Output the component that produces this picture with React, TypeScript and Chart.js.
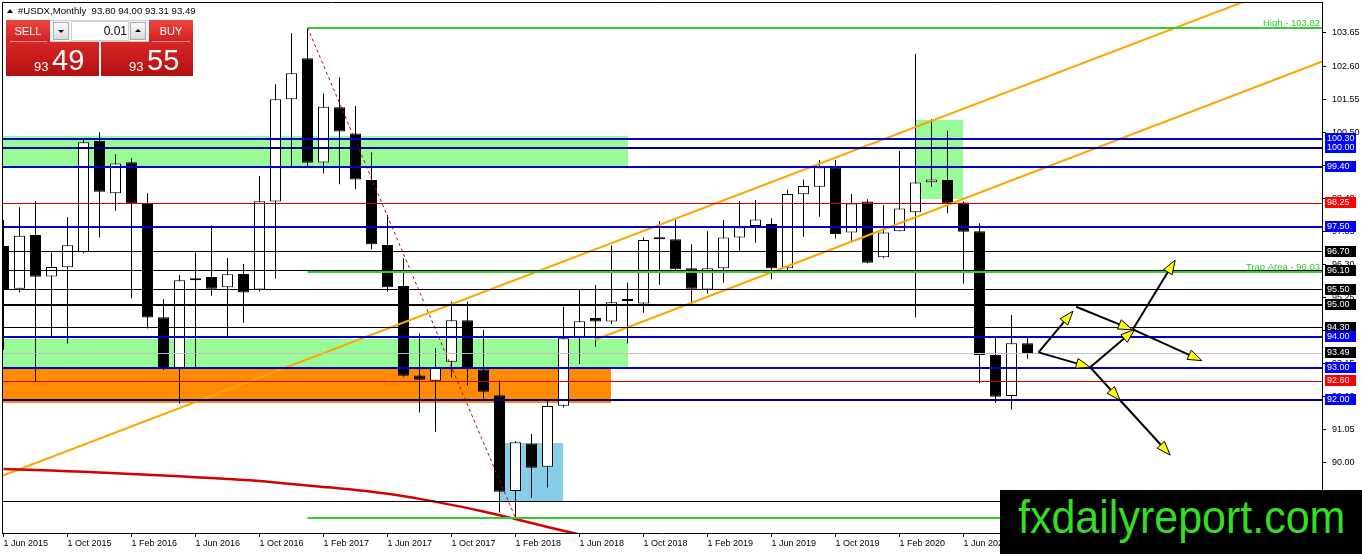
import React, { useEffect, useRef } from 'react';
import { Chart, registerables } from 'chart.js';

Chart.register(...registerables);

// Monthly candles, index 0 = Jun 2015 ... 64 = Oct 2020
const opens = [96.89, 95.53, 97.24, 95.92, 96.21, 96.69, 100.22, 98.56, 99.55, 98.25, 94.63, 93.0, 95.8, 95.9, 95.58, 96.0, 95.51, 98.3, 101.55, 102.85, 99.54, 101.29, 100.46, 98.98, 96.92, 95.62, 92.78, 92.61, 93.21, 94.53, 92.97, 92.15, 89.11, 90.62, 89.88, 91.82, 93.96, 94.6, 94.49, 95.14, 95.06, 97.1, 97.1, 96.18, 95.51, 96.18, 97.16, 97.52, 97.59, 96.18, 98.53, 98.77, 99.39, 97.32, 98.3, 96.53, 97.36, 97.96, 98.91, 98.98, 98.27, 97.36, 93.43, 92.13, 93.8];
const highs = [97.71, 98.12, 98.32, 96.68, 97.8, 100.25, 100.5, 99.8, 99.67, 98.56, 95.2, 95.97, 96.68, 97.55, 96.51, 96.32, 99.11, 102.02, 103.64, 103.82, 101.73, 102.24, 101.33, 99.86, 97.87, 96.5, 94.11, 93.64, 95.12, 95.12, 94.22, 92.63, 90.7, 90.92, 91.98, 94.96, 95.51, 95.65, 96.9, 95.73, 97.16, 97.68, 97.71, 96.94, 97.36, 97.71, 98.32, 98.35, 97.77, 98.67, 99.0, 99.62, 99.62, 98.54, 98.37, 98.19, 99.9, 102.98, 100.91, 100.55, 98.3, 97.61, 93.98, 94.7, 94.0];
const lows = [93.59, 95.41, 92.58, 94.03, 93.79, 96.66, 97.16, 98.01, 95.23, 94.27, 92.95, 91.89, 93.0, 95.31, 94.03, 94.45, 95.44, 95.86, 99.43, 99.43, 99.19, 98.85, 98.69, 96.78, 95.44, 92.74, 91.6, 90.99, 92.71, 92.47, 92.05, 88.43, 88.25, 88.9, 89.22, 91.76, 93.14, 93.69, 94.41, 93.8, 94.77, 95.66, 96.05, 95.07, 95.39, 95.72, 96.71, 96.99, 95.83, 96.1, 97.18, 97.82, 97.13, 97.05, 96.34, 96.5, 97.36, 94.62, 98.77, 97.93, 95.7, 92.53, 91.91, 91.7, 93.31];
const closes = [95.49, 97.21, 95.91, 96.22, 96.91, 100.18, 98.61, 99.51, 98.23, 94.62, 93.0, 95.8, 95.86, 95.53, 95.99, 95.41, 98.31, 101.55, 102.37, 99.53, 101.31, 100.52, 99.0, 96.94, 95.58, 92.77, 92.64, 93.03, 94.53, 93.0, 92.26, 89.09, 90.66, 89.85, 91.81, 93.96, 94.5, 94.49, 95.1, 95.16, 97.08, 97.16, 96.15, 95.53, 96.18, 97.16, 97.48, 97.73, 96.18, 98.54, 98.79, 99.39, 97.27, 98.24, 96.36, 97.32, 98.08, 98.9, 99.0, 98.24, 97.34, 93.43, 92.1, 93.8, 93.49];

const xTickLabels = ['1 Jun 2015', '1 Oct 2015', '1 Feb 2016', '1 Jun 2016', '1 Oct 2016', '1 Feb 2017', '1 Jun 2017', '1 Oct 2017', '1 Feb 2018', '1 Jun 2018', '1 Oct 2018', '1 Feb 2019', '1 Jun 2019', '1 Oct 2019', '1 Feb 2020', '1 Jun 2020', '1 Oct 2020', '1 Feb 2021', '1 Jun 2021', '1 Oct 2021', '1 Feb 2022'];
const yTickValues = [88.95, 90.0, 91.05, 92.1, 93.15, 94.2, 95.25, 96.3, 97.35, 98.4, 99.45, 100.5, 101.55, 102.6, 103.65];

// moving average (red curve)
const maIdx = [0, 2, 4, 6, 8, 10, 12, 14, 16, 18, 20, 22, 24, 26, 28, 30, 32, 34, 36, 38];
const maVals = [89.81, 89.78, 89.74, 89.7, 89.65, 89.6, 89.55, 89.49, 89.43, 89.33, 89.24, 89.14, 89.02, 88.86, 88.67, 88.46, 88.22, 87.97, 87.73, 87.49];

// horizontal price levels with axis labels
const levelPrices = [100.3, 100.0, 99.4, 98.25, 97.5, 96.7, 96.1, 95.5, 95.0, 94.3, 94.0, 93.49, 93.0, 92.6, 92.0, 88.79];
const levelKinds = ['blue', 'navy', 'blue', 'red', 'blue', 'black', 'black', 'black', 'bold', 'black', 'blue', 'gray', 'blue', 'red', 'navy', 'black'];

// green trend levels (start month index)
const greenLevels = [103.82, 96.06, 88.25];
const greenFrom = [19, 19, 19];

// zones
const zoneKinds = ['green', 'green', 'orange', 'sky', 'green'];
const zoneFrom = [-1, -1, -1, 31.03, 57.03];
const zoneTo = [39.0, 39.0, 37.95, 34.95, 59.99];
const zoneTop = [100.38, 93.95, 92.97, 90.62, 100.89];
const zoneBottom = [99.4, 93.0, 91.89, 88.79, 98.38];

// trendlines
const channelUpperX = [-0.2, 82.5];
const channelUpperY = [89.57, 105.61];
const channelLowerX = [36.98, 82.5];
const channelLowerY = [93.91, 102.76];
const dottedX = [19, 32];
const dottedY = [103.82, 88.25];

// projection arrows [fromIdx, fromPrice, toIdx, toPrice]
const arrowSegments = [
  [64.69, 93.51, 66.84, 94.82],
  [64.69, 93.51, 67.92, 93.04],
  [67.04, 94.96, 70.55, 94.23],
  [67.92, 93.04, 70.7, 94.24],
  [70.58, 94.24, 73.23, 96.44],
  [70.58, 94.24, 74.9, 93.25],
  [67.92, 93.04, 69.79, 91.99],
  [69.79, 91.99, 72.92, 90.25],
];

const X_MIN = -0.09375;
const X_MAX = 82.40625;
const Y_MIN = 87.777;
const Y_MAX = 104.634;

const LEVEL_STYLE: Record<string, { line: string; width: number; box: string }> = {
  blue: { line: '#0000d0', width: 2, box: '#0000ff' },
  navy: { line: '#000090', width: 2, box: '#0000ff' },
  red: { line: '#d00000', width: 1, box: '#ff0000' },
  black: { line: '#000000', width: 1, box: '#000000' },
  bold: { line: '#000000', width: 2, box: '#000000' },
  gray: { line: '#c0c0c0', width: 1, box: '#000000' },
};
const ZONE_COLOR: Record<string, string> = { green: '#98fb98', orange: '#ff8c00', sky: '#87ceeb' };
const FONT = '"Liberation Sans", Arial, sans-serif';

const overlay = {
  id: 'overlay',
  beforeDatasetsDraw(chart: any) {
    const { ctx, chartArea: a, scales } = chart;
    const xs = scales.x, ys = scales.y;
    ctx.save();
    ctx.beginPath();
    ctx.rect(a.left, a.top, a.right - a.left, a.bottom - a.top);
    ctx.clip();
    zoneKinds.forEach((k, n) => {
      const x0 = Math.round(xs.getPixelForValue(zoneFrom[n]));
      const x1 = Math.round(xs.getPixelForValue(zoneTo[n]));
      const y0 = Math.round(ys.getPixelForValue(zoneTop[n]));
      const y1 = Math.round(ys.getPixelForValue(zoneBottom[n]));
      ctx.fillStyle = ZONE_COLOR[k];
      ctx.fillRect(x0, y0, x1 - x0, y1 - y0);
    });
    ctx.restore();
  },
  afterDatasetsDraw(chart: any) {
    const { ctx, chartArea: a, scales } = chart;
    const xs = scales.x, ys = scales.y;
    ctx.save();
    ctx.beginPath();
    ctx.rect(a.left, a.top, a.right - a.left, a.bottom - a.top);
    ctx.clip();
    levelPrices.forEach((p, n) => {
      const st = LEVEL_STYLE[levelKinds[n]];
      const py = ys.getPixelForValue(p);
      const yy = st.width % 2 ? Math.floor(py) + 0.5 : Math.round(py);
      ctx.strokeStyle = st.line;
      ctx.lineWidth = st.width;
      ctx.beginPath();
      ctx.moveTo(a.left, yy);
      ctx.lineTo(a.right, yy);
      ctx.stroke();
    });
    greenLevels.forEach((p, n) => {
      const py = Math.round(ys.getPixelForValue(p));
      const x0 = xs.getPixelForValue(greenFrom[n]);
      ctx.strokeStyle = '#33cc33';
      ctx.lineWidth = 2;
      ctx.beginPath();
      ctx.moveTo(x0, py);
      ctx.lineTo(a.right, py);
      ctx.stroke();
    });
    arrowSegments.forEach(([fx, fy, tx, ty]) => {
      const x0 = xs.getPixelForValue(fx), y0 = ys.getPixelForValue(fy);
      const x1 = xs.getPixelForValue(tx), y1 = ys.getPixelForValue(ty);
      const ang = Math.atan2(y1 - y0, x1 - x0);
      const L = 14, W = 5;
      const bx = x1 - L * Math.cos(ang), by = y1 - L * Math.sin(ang);
      ctx.strokeStyle = '#000';
      ctx.lineWidth = 2;
      ctx.beginPath();
      ctx.moveTo(x0, y0);
      ctx.lineTo(bx, by);
      ctx.stroke();
      ctx.beginPath();
      ctx.moveTo(x1, y1);
      ctx.lineTo(bx + W * Math.sin(ang), by - W * Math.cos(ang));
      ctx.lineTo(bx - W * Math.sin(ang), by + W * Math.cos(ang));
      ctx.closePath();
      ctx.fillStyle = '#ffff00';
      ctx.fill();
      ctx.lineWidth = 1;
      ctx.stroke();
    });
    ctx.font = '9.5px ' + FONT;
    ctx.fillStyle = '#33cc33';
    ctx.textAlign = 'right';
    ctx.textBaseline = 'alphabetic';
    ctx.fillText('High - 103.82', a.right - 2, Math.round(ys.getPixelForValue(greenLevels[0])) - 2);
    ctx.fillText('Trap Area - 96.03', a.right - 2, Math.round(ys.getPixelForValue(greenLevels[1])) - 2);
    ctx.restore();
  },
  afterDraw(chart: any) {
    const { ctx, chartArea: a, scales } = chart;
    const ys = scales.y;
    ctx.save();
    ctx.strokeStyle = '#000';
    ctx.lineWidth = 1;
    ctx.beginPath();
    ctx.moveTo(a.left + 0.5, a.bottom);
    ctx.lineTo(a.left + 0.5, a.top + 0.5);
    ctx.lineTo(a.right, a.top + 0.5);
    ctx.stroke();
    ctx.font = '9px ' + FONT;
    ctx.textAlign = 'left';
    ctx.textBaseline = 'middle';
    levelPrices.forEach((p, n) => {
      const st = LEVEL_STYLE[levelKinds[n]];
      const py = Math.round(ys.getPixelForValue(p));
      ctx.fillStyle = st.box;
      ctx.fillRect(a.right + 3, py - 6, 31, 11);
      ctx.fillStyle = '#fff';
      ctx.fillText(p.toFixed(2), a.right + 5, py);
    });
    ctx.restore();
  },
};

const idx = opens.map((_, i) => i);

export default function App() {
  const ref = useRef<HTMLCanvasElement>(null);
  useEffect(() => {
    const chart = new Chart(ref.current as HTMLCanvasElement, {
      type: 'bar',
      data: {
        datasets: [
          {
            type: 'line',
            data: maIdx.map((v, k) => ({ x: v, y: maVals[k] })),
            borderColor: '#d40000',
            borderWidth: 2.5,
            pointRadius: 0,
            tension: 0.4,
            order: 0,
          } as any,
          {
            type: 'line',
            data: channelUpperX.map((v, k) => ({ x: v, y: channelUpperY[k] })),
            borderColor: '#ffa500',
            borderWidth: 2,
            pointRadius: 0,
            order: 0,
          },
          {
            type: 'line',
            data: channelLowerX.map((v, k) => ({ x: v, y: channelLowerY[k] })),
            borderColor: '#ffa500',
            borderWidth: 2,
            pointRadius: 0,
            order: 0,
          },
          {
            type: 'line',
            data: dottedX.map((v, k) => ({ x: v, y: dottedY[k] })),
            borderColor: '#c00000',
            borderWidth: 1,
            borderDash: [3, 3],
            pointRadius: 0,
            order: 0,
          },
          {
            type: 'bar',
            data: idx.map((i) => ({ x: i, y: [opens[i], closes[i]] })),
            backgroundColor: (c: any) => (closes[c.dataIndex] >= opens[c.dataIndex] ? '#ffffff' : '#000000'),
            borderColor: '#000',
            borderWidth: 1,
            borderSkipped: false,
            barThickness: 11,
            grouped: false,
            minBarLength: 2,
            inflateAmount: 0,
            order: 1,
          } as any,
          {
            type: 'bar',
            data: idx.map((i) => ({ x: i, y: [lows[i], highs[i]] })),
            backgroundColor: '#000',
            borderWidth: 0,
            barThickness: 1,
            grouped: false,
            inflateAmount: 0,
            order: 2,
          } as any,
        ],
      },
      options: {
        animation: false,
        responsive: false,
        maintainAspectRatio: false,
        events: [],
        layout: { padding: { left: 2, top: 2, right: 0, bottom: 0 } },
        plugins: { legend: { display: false }, tooltip: { enabled: false } },
        scales: {
          x: {
            type: 'linear',
            position: 'bottom',
            min: X_MIN,
            max: X_MAX,
            offset: false,
            bounds: 'data',
            grid: { drawOnChartArea: false, drawTicks: true, tickLength: 4, color: '#000', offset: false },
            border: { display: true, color: '#000' },
            ticks: {
              autoSkip: false,
              maxRotation: 0,
              minRotation: 0,
              align: 'start',
              padding: 1,
              color: '#000',
              font: { family: FONT, size: 9 },
              callback: (v: any) => xTickLabels[Math.round(Number(v) / 4)] ?? '',
            },
            afterBuildTicks: (s: any) => {
              s.ticks = xTickLabels.map((_, k) => ({ value: k * 4 }));
            },
            afterFit: (s: any) => {
              s.height = 21;
              s.paddingLeft = 0;
              s.paddingRight = 0;
              s.paddingTop = 0;
              s.paddingBottom = 0;
            },
          } as any,
          y: {
            type: 'linear',
            position: 'right',
            min: Y_MIN,
            max: Y_MAX,
            bounds: 'data',
            grid: { drawOnChartArea: false, drawTicks: true, tickLength: 4, color: '#000' },
            border: { display: true, color: '#000' },
            ticks: {
              padding: 6,
              color: '#000',
              font: { family: FONT, size: 9 },
              callback: (v: any) => Number(v).toFixed(2),
            },
            afterBuildTicks: (s: any) => {
              s.ticks = yTickValues.map((v) => ({ value: v }));
            },
            afterFit: (s: any) => {
              s.width = 40;
              s.paddingTop = 0;
              s.paddingBottom = 0;
              s.paddingLeft = 0;
              s.paddingRight = 0;
            },
          } as any,
        },
      },
      plugins: [overlay],
    });
    return () => chart.destroy();
  }, []);

  const hdrRed = 'linear-gradient(#ea4842, #d21f1f)';
  const priceRed = 'linear-gradient(#d92727, #b10f0f)';
  const abs = (o: React.CSSProperties): React.CSSProperties => ({ position: 'absolute', ...o });

  return (
    <div style={{ position: 'fixed', left: 0, top: 0, width: 1362, height: 554, background: '#fff', overflow: 'hidden' }}>
      <canvas ref={ref} width={1362} height={554} style={{ position: 'absolute', left: 0, top: 0, width: 1362, height: 554 }} />
      {/* header */}
      <div style={abs({ left: 7, top: 9, width: 0, height: 0, borderLeft: '3px solid transparent', borderRight: '3px solid transparent', borderBottom: '4px solid #000' })} />
      <div style={abs({ left: 18, top: 5, font: '9.6px ' + FONT, lineHeight: '12px', color: '#000', whiteSpace: 'pre' })}>#USDX,Monthly  93.80 94.00 93.31 93.49</div>
      {/* one-click panel */}
      <div style={abs({ left: 6, top: 20, width: 44, height: 22, background: hdrRed })} />
      <div style={abs({ left: 149, top: 20, width: 44, height: 22, background: hdrRed })} />
      <div style={abs({ left: 6, top: 42, width: 93, height: 34, background: priceRed })} />
      <div style={abs({ left: 101, top: 42, width: 92, height: 34, background: priceRed })} />
      <div style={abs({ left: 10, top: 41, width: 37, height: 1, background: 'rgba(255,255,255,0.55)' })} />
      <div style={abs({ left: 152, top: 41, width: 38, height: 1, background: 'rgba(255,255,255,0.55)' })} />
      <div style={abs({ left: 6, top: 24, width: 44, textAlign: 'center', font: '11px ' + FONT, lineHeight: '14px', color: '#fff' })}>SELL</div>
      <div style={abs({ left: 149, top: 24, width: 44, textAlign: 'center', font: '11px ' + FONT, lineHeight: '14px', color: '#fff' })}>BUY</div>
      <div style={abs({ left: 50, top: 20, width: 99, height: 22, background: '#f7f7f7', boxSizing: 'border-box', borderTop: '1px solid #cfcfcf', borderBottom: '1px solid #cfcfcf' })} />
      <div style={abs({ left: 53, top: 22, width: 16, height: 18, background: 'linear-gradient(#fbfbfb,#dadada)', border: '1px solid #a8a8a8', boxSizing: 'border-box' })} />
      <div style={abs({ left: 58, top: 30, width: 0, height: 0, borderLeft: '3px solid transparent', borderRight: '3px solid transparent', borderTop: '3px solid #000' })} />
      <div style={abs({ left: 71, top: 21, width: 58, height: 20, background: '#fff', border: '1px solid #d0d0d0', boxSizing: 'border-box' })} />
      <div style={abs({ left: 72, top: 24, width: 55, textAlign: 'right', font: '12px ' + FONT, lineHeight: '14px', color: '#000' })}>0.01</div>
      <div style={abs({ left: 130, top: 22, width: 16, height: 18, background: 'linear-gradient(#fbfbfb,#dadada)', border: '1px solid #a8a8a8', boxSizing: 'border-box' })} />
      <div style={abs({ left: 135, top: 29, width: 0, height: 0, borderLeft: '3px solid transparent', borderRight: '3px solid transparent', borderBottom: '3px solid #000' })} />
      <div style={abs({ left: 34, top: 60, font: '13px ' + FONT, lineHeight: '13px', color: '#fff' })}>93</div>
      <div style={abs({ left: 52, top: 46, font: '29px ' + FONT, lineHeight: '29px', color: '#fff' })}>49</div>
      <div style={abs({ left: 129, top: 60, font: '13px ' + FONT, lineHeight: '13px', color: '#fff' })}>93</div>
      <div style={abs({ left: 147, top: 46, font: '29px ' + FONT, lineHeight: '29px', color: '#fff' })}>55</div>
      {/* watermark */}
      <div style={abs({ left: 1000, top: 490, width: 362, height: 64, background: '#000' })} />
      <div style={abs({ left: 1018, top: 493, font: '47px ' + FONT, lineHeight: '47px', color: '#33dd22', transform: 'scaleX(0.915)', transformOrigin: 'left top', whiteSpace: 'nowrap' })}>fxdailyreport.com</div>
    </div>
  );
}
